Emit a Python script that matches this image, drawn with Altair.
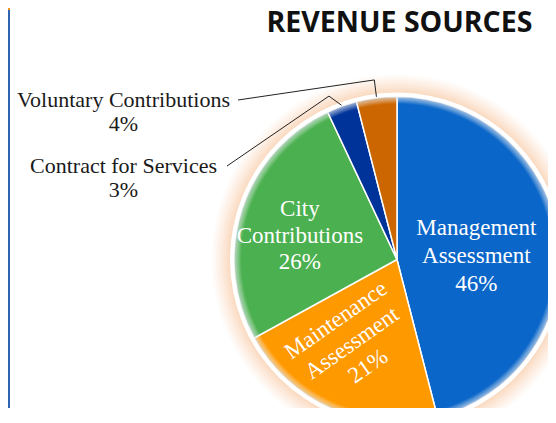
import altair as alt
import pandas as pd

TITLE = "REVENUE SOURCES"
names = ["Management Assessment", "Maintenance Assessment", "City Contributions",
         "Contract for Services", "Voluntary Contributions"]
shares = [46, 21, 26, 3, 4]
colors = ["#0A66C8", "#FF9900", "#4BB04F", "#003399", "#CC6600"]

df = pd.DataFrame({"name": names, "share": shares, "idx": list(range(len(names)))})
deco = pd.DataFrame({"k": [0]})
tdf = pd.DataFrame({"t": [TITLE]})

CX, CY, R = 389, 251.5, 163
FULL = 6.2832

glow = alt.Chart(deco).mark_arc(
    theta=0, theta2=FULL, radius=186,
    fill=alt.Gradient(gradient="radial", x1=0.5, y1=0.5, x2=0.5, y2=0.5, r1=0, r2=0.5,
                      stops=[alt.GradientStop(offset=0, color="#FADBC2"),
                             alt.GradientStop(offset=0.9, color="#FADBC2"),
                             alt.GradientStop(offset=0.95, color="#FDEEE3"),
                             alt.GradientStop(offset=1, color="#FFFFFF")])
).encode(x=alt.value(CX), y=alt.value(CY))

ring = alt.Chart(deco).mark_arc(theta=0, theta2=FULL, radius=R + 4, fill="white").encode(
    x=alt.value(CX), y=alt.value(CY))

pie = alt.Chart(df).mark_arc(radius=R, stroke="white", strokeWidth=1.5).encode(
    theta=alt.Theta("share:Q", stack=True),
    order=alt.Order("idx:Q"),
    color=alt.Color("name:N", scale=alt.Scale(domain=names, range=colors), legend=None),
    x=alt.value(CX), y=alt.value(CY),
)

soft = alt.Chart(deco).mark_arc(
    theta=0, theta2=FULL, radius=R, radius2=R - 12,
    fill=alt.Gradient(gradient="radial", x1=0.5, y1=0.5, x2=0.5, y2=0.5, r1=0, r2=0.5,
                      stops=[alt.GradientStop(offset=0.955, color="rgba(255,255,255,0)"),
                             alt.GradientStop(offset=1, color="rgba(220,225,232,0.75)")])
).encode(x=alt.value(CX), y=alt.value(CY))

base = alt.Chart(df).transform_window(
    cum="sum(share)", sort=[alt.SortField("idx", order="ascending")], frame=[None, 0]
).transform_joinaggregate(total="sum(share)").transform_calculate(
    mid="2*PI*(datum.cum - datum.share/2)/datum.total"
)


def inner(name, r, dx, dy, lh, angle=0):
    return base.transform_filter(alt.datum.name == name).transform_calculate(
        px=f"{CX} + {r}*sin(datum.mid)",
        py=f"{CY} - {r}*cos(datum.mid)",
        label="replace(datum.name, ' ', '\\n') + '\\n' + datum.share + '%'",
    ).mark_text(
        align="center", baseline="middle", lineBreak="\n", font="Liberation Serif",
        fontSize=23, lineHeight=lh, color="white", angle=angle, dx=dx, dy=dy,
    ).encode(
        x=alt.X("px:Q", scale=None, axis=None),
        y=alt.Y("py:Q", scale=None, axis=None),
        text="label:N",
    )


def leader(name, sx, sy, re, da):
    b = base.transform_filter(alt.datum.name == name).transform_calculate(
        sx=f"{sx}", sy=f"{sy}",
        ex=f"{CX} + {re}*sin(datum.mid + {da})",
        ey=f"{CY} - {re}*cos(datum.mid + {da})",
        tx=f"{CX} + {R + 1}*sin(datum.mid)",
        ty=f"{CY} - {R + 1}*cos(datum.mid)",
    )
    r1 = b.mark_rule(color="#222222", strokeWidth=1).encode(
        x=alt.X("sx:Q", scale=None, axis=None), y=alt.Y("sy:Q", scale=None, axis=None),
        x2="ex:Q", y2="ey:Q")
    r2 = b.mark_rule(color="#222222", strokeWidth=1).encode(
        x=alt.X("ex:Q", scale=None, axis=None), y=alt.Y("ey:Q", scale=None, axis=None),
        x2="tx:Q", y2="ty:Q")
    return [r1, r2]


def outer(name, x, y):
    return base.transform_filter(alt.datum.name == name).transform_calculate(
        label="datum.name + '\\n' + datum.share + '%'"
    ).mark_text(
        align="center", baseline="alphabetic", lineBreak="\n", font="Liberation Serif",
        fontSize=22, lineHeight=24, color="#1A1A1A",
    ).encode(x=alt.value(x), y=alt.value(y), text="label:N")


title = alt.Chart(tdf).mark_text(
    align="center", baseline="alphabetic", font="Open Sans", fontWeight="bold",
    fontSize=28.5, color="#111111",
).encode(x=alt.value(391.5), y=alt.value(24), text="t:N")

bar = alt.Chart(deco).mark_rect(color="#2E64B0").encode(
    x=alt.value(0), x2=alt.value(2), y=alt.value(2), y2=alt.value(400))
bar_top = alt.Chart(deco).mark_rect(color="#F7941D").encode(
    x=alt.value(0), x2=alt.value(2), y=alt.value(0), y2=alt.value(2))

layers = [glow, ring, pie, soft,
          inner("Management Assessment", 80, 0, -21, 28),
          inner("City Contributions", 100, -2, -19.5, 26.5),
          inner("Maintenance Assessment", 95, -4, -35, 28, 325),
          *leader("Voluntary Contributions", 230, 92, 181, 0),
          *leader("Contract for Services", 219, 158, 177, -0.049),
          outer("Voluntary Contributions", 115.5, 98.7),
          outer("Contract for Services", 115.5, 165.3),
          title, bar, bar_top]

chart = alt.layer(*layers).properties(
    width=540, height=400, autosize=alt.AutoSizeParams(type="none"), padding=0
).configure_view(stroke=None)

chart.save("out.html", embed_options={"renderer": "svg", "actions": False})
